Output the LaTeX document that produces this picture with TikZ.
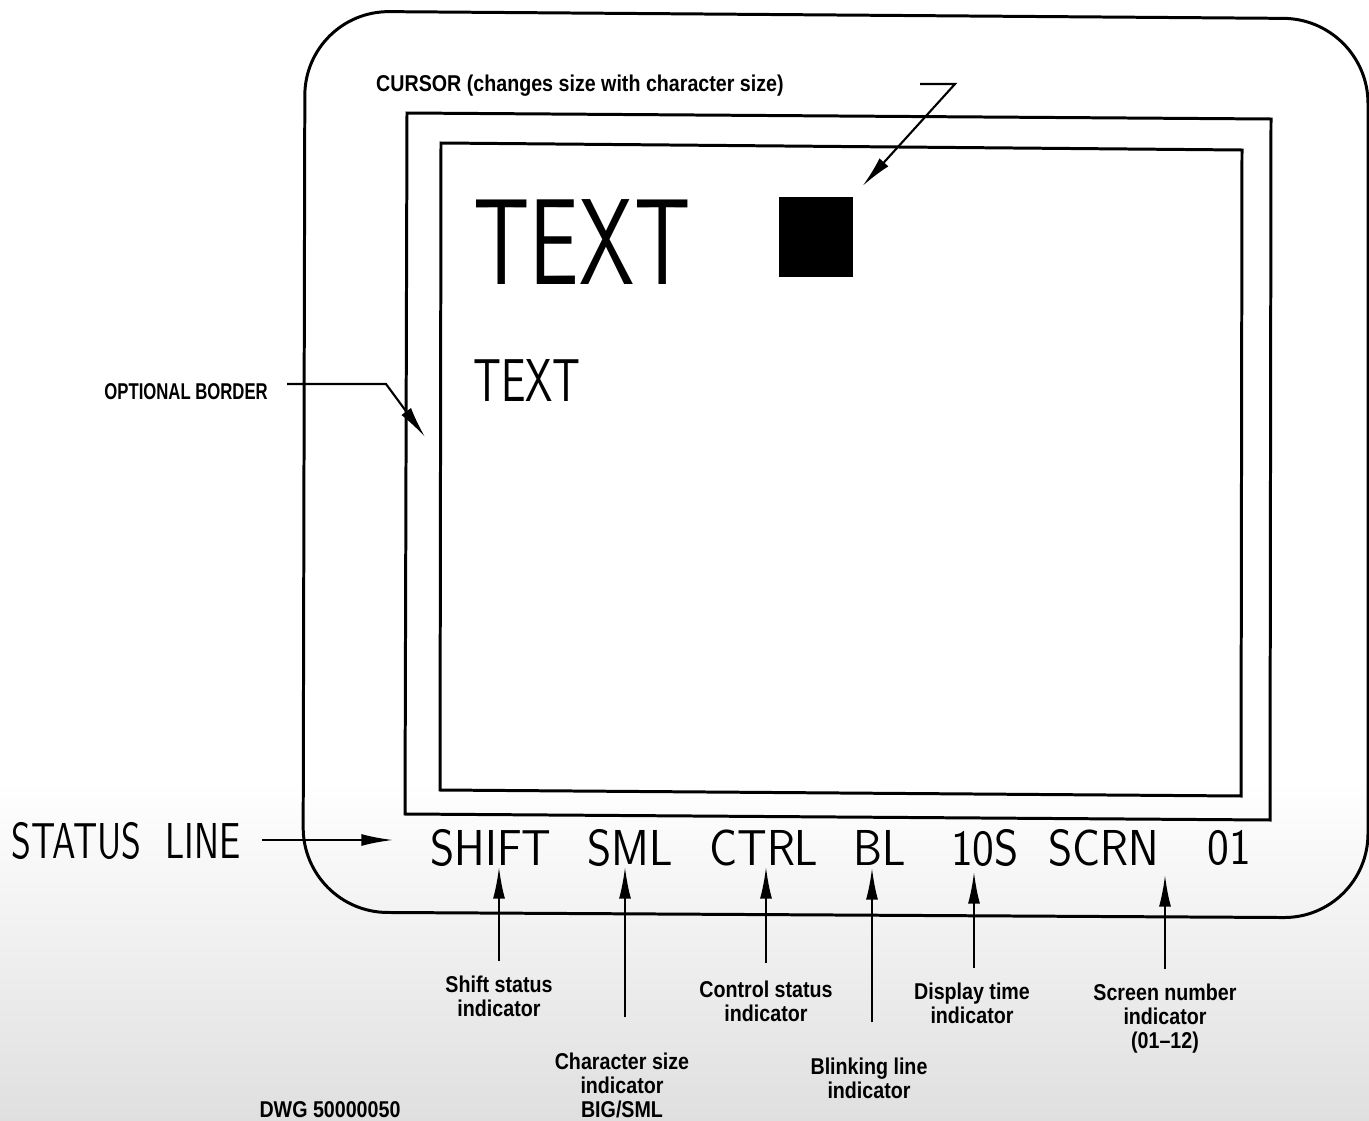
\documentclass[tikz,border=0pt]{standalone}
\usepackage{fontspec}
\newfontfamily\lblfont[FakeStretch=0.86]{Liberation Sans}
\usetikzlibrary{arrows.meta, positioning}
\newcommand{\narrowtext}[2]{\scalebox{#1}[1]{#2}}

\begin{document}
\begin{tikzpicture}[x=0.01cm, y=-0.01cm,
    frame/.style={line width=0.85pt},
    arr/.style={line width=0.6pt, -{Latex[length=9pt,width=3.4pt]}},
    lbl/.style={font=\lblfont\bfseries\fontsize{6.5}{6.8}\selectfont, align=center, inner sep=1pt},
    stat/.style={font=\sffamily\fontsize{14.35}{16}\selectfont, inner sep=0pt}]
    \useasboundingbox (0,0) rectangle (1369,1121);
    \shade[top color=white, bottom color=gray!25] (0,780) rectangle (1369,1121);

    % screen housing and the two frames
    \draw[frame, rounded corners=24pt] (305,11) -- (1368,19) -- (1368,918) -- (303,912) -- cycle;
    \draw[frame] (407,113) -- (1271,119) -- (1270,820) -- (405,814) -- cycle;
    \draw[frame] (441,143) -- (1242,150) -- (1241,796) -- (440,790) -- cycle;

    \node[font=\sffamily\fontsize{34.8}{36}\selectfont, inner sep=0pt] (bigtext) at (582,242) {\narrowtext{0.72}{TEXT}};
    \node[font=\sffamily\fontsize{17.2}{19}\selectfont, inner sep=0pt] (smalltext) at (527,381) {\narrowtext{0.72}{TEXT}};
    \node[fill=black, minimum width=0.73cm, minimum height=0.8cm, inner sep=0pt] (cursor) at (816,237) {};

    \node[lbl, anchor=west] (cursorlbl) at (372,86) {CURSOR (changes size with character size)};
    \coordinate (cursorA) at (920,84);
    \coordinate (cursorB) at (955,84);
    \draw[arr, shorten >=4pt] (cursorA) -- (cursorB) -- (cursor.north east);

    \node[lbl, anchor=east] (borderlbl) at (272,392) {\narrowtext{0.85}{OPTIONAL BORDER}};
    \coordinate (borderA) at (287,384);
    \coordinate (borderB) at (386,384);
    \coordinate (bordertip) at (425,437);
    \draw[arr] (borderA) -- (borderB) -- (bordertip);

    % status line
    \node[stat, anchor=west] (statuslbl) at (11,841) {\narrowtext{0.72}{STATUS\ \ LINE}};
    \node[stat] (shift) at (491,848) {\narrowtext{0.88}{SHIFT}};
    \node[stat] (sml) at (630,848) {\narrowtext{0.88}{SML}};
    \node[stat] (ctrl) at (764,848) {\narrowtext{0.88}{CTRL}};
    \node[stat] (bl) at (880,848) {\narrowtext{0.88}{BL}};
    \node[stat] (tens) at (985,848) {\narrowtext{0.88}{10S}};
    \node[stat] (scrn) at (1104,848) {\narrowtext{0.88}{SCRN}};
    \node[stat] (scrnno) at (1229,848) {\narrowtext{0.88}{01}};
    \coordinate (statustip) at (393,840);
    \draw[arr, shorten <=6pt] (statuslbl.east |- statustip) -- (statustip);

    \coordinate (shifttip) at (499,867);
    \coordinate (smltip) at (625,867);
    \coordinate (ctrltip) at (766,867);
    \coordinate (bltip) at (872,868);
    \coordinate (tenstip) at (974,872);
    \coordinate (scrntip) at (1165,875);

    \node[lbl, anchor=north] (shiftlbl) at (499,972) {Shift status\\indicator};
    \node[lbl, anchor=north] (smllbl) at (622,1049) {Character size\\indicator\\BIG/SML};
    \node[lbl, anchor=north] (ctrllbl) at (766,977) {Control status\\indicator};
    \node[lbl, anchor=north] (bllbl) at (869,1054) {Blinking line\\indicator};
    \node[lbl, anchor=north] (tenslbl) at (972,979) {Display time\\indicator};
    \node[lbl, anchor=north] (scrnlbl) at (1165,980) {Screen number\\indicator\\(01–12)};

    \draw[arr, shorten <=3pt] (shiftlbl.north -| shifttip) -- (shifttip);
    \draw[arr, shorten <=9pt] (smllbl.north -| smltip) -- (smltip);
    \draw[arr, shorten <=4pt] (ctrllbl.north -| ctrltip) -- (ctrltip);
    \draw[arr, shorten <=9pt] (bllbl.north -| bltip) -- (bltip);
    \draw[arr, shorten <=3pt] (tenslbl.north -| tenstip) -- (tenstip);
    \draw[arr, shorten <=3pt] (scrnlbl.north -| scrntip) -- (scrntip);

    \node[lbl] (dwg) at (330,1110) {DWG 50000050};
\end{tikzpicture}
\end{document}
